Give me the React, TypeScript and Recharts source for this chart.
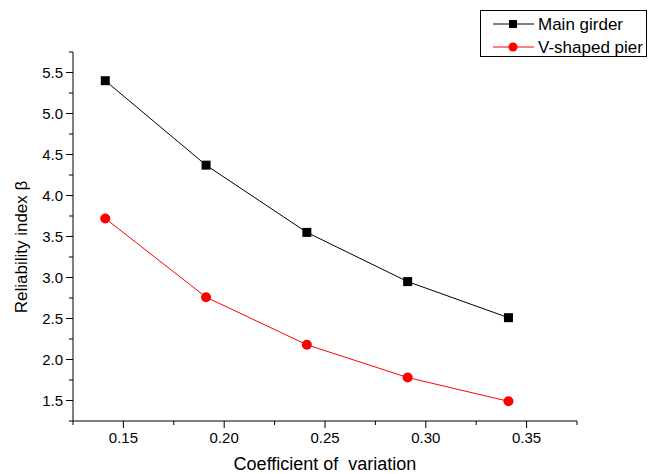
import React from 'react';
import { LineChart, Line, XAxis, YAxis } from 'recharts';

const cov = [0.141, 0.191, 0.241, 0.291, 0.341];
const mainGirder = [5.4, 4.37, 3.55, 2.95, 2.51];
const vPier = [3.72, 2.76, 2.18, 1.78, 1.49];

const xTicks = [0.125, 0.15, 0.175, 0.2, 0.225, 0.25, 0.275, 0.3, 0.325, 0.35, 0.375];
const xLabels = ['0.15', '0.20', '0.25', '0.30', '0.35'];
const yTicks = [1.25, 1.5, 1.75, 2, 2.25, 2.5, 2.75, 3, 3.25, 3.5, 3.75, 4, 4.25, 4.5, 4.75, 5, 5.25, 5.5, 5.75];
const yLabels = ['1.5', '2.0', '2.5', '3.0', '3.5', '4.0', '4.5', '5.0', '5.5'];

const data = cov.map((c, i) => ({ x: c, main: mainGirder[i], pier: vPier[i] }));

const FONT = 'Arial, "Liberation Sans", sans-serif';

const XTick = (props: any) => {
  const { x, y, payload } = props;
  const label = xLabels.find((l) => Math.abs(parseFloat(l) - payload.value) < 1e-6);
  return (
    <g>
      <line x1={x} x2={x} y1={y} y2={y + (label ? 7 : 4)} stroke="#000" />
      {label && (
        <text x={x} y={y + 22} textAnchor="middle" fontSize={15} fontFamily={FONT} fill="#000">
          {label}
        </text>
      )}
    </g>
  );
};

const YTick = (props: any) => {
  const { x, y, payload } = props;
  const label = yLabels.find((l) => Math.abs(parseFloat(l) - payload.value) < 1e-6);
  return (
    <g>
      <line x1={x} x2={x - (label ? 7 : 4)} y1={y} y2={y} stroke="#000" />
      {label && (
        <text x={x - 10} y={y + 5} textAnchor="end" fontSize={15} fontFamily={FONT} fill="#000">
          {label}
        </text>
      )}
    </g>
  );
};

const Square = (props: any) => {
  const { cx, cy } = props;
  return <rect x={cx - 4.5} y={cy - 4.5} width={9} height={9} fill="#000" />;
};

const Dot = (props: any) => {
  const { cx, cy } = props;
  return <circle cx={cx} cy={cy} r={5} fill="#ff0000" />;
};

const LegendBox = () => (
  <div
    style={{
      position: 'absolute',
      left: 480,
      top: 10,
      width: 165,
      height: 45,
      border: '1px solid #000',
      background: '#fff',
    }}
  >
    <svg width={165} height={45} style={{ position: 'absolute', left: 0, top: 0 }}>
      <line x1={12} x2={53} y1={13} y2={13} stroke="#000" />
      <rect x={28} y={9} width={8} height={8} fill="#000" />
      <text x={57} y={19} fontSize={17} fontFamily={FONT} fill="#000">Main girder</text>
      <line x1={12} x2={53} y1={36} y2={36} stroke="#ff0000" />
      <circle cx={32} cy={36} r={4.5} fill="#ff0000" />
      <text x={57} y={42} fontSize={17} fontFamily={FONT} fill="#000">V-shaped pier</text>
    </svg>
  </div>
);

export default function App() {
  return (
    <div style={{ position: 'absolute', left: 0, top: 0, width: 654, height: 474, background: '#fff' }}>
      <LineChart width={654} height={474} data={data} margin={{ top: 52, right: 77, left: 0, bottom: 0 }}>
        <XAxis
          dataKey="x"
          type="number"
          domain={[0.125, 0.375]}
          ticks={xTicks}
          tick={<XTick />}
          tickLine={false}
          tickSize={0}
          tickMargin={0}
          height={53}
          axisLine={{ stroke: '#000' }}
          interval={0}
          allowDataOverflow
        />
        <YAxis
          type="number"
          domain={[1.25, 5.75]}
          ticks={yTicks}
          tick={<YTick />}
          tickLine={false}
          tickSize={0}
          tickMargin={0}
          width={73}
          axisLine={{ stroke: '#000' }}
          interval={0}
          allowDataOverflow
        />
        <Line
          type="linear"
          dataKey="main"
          stroke="#000"
          strokeWidth={1}
          dot={<Square />}
          isAnimationActive={false}
        />
        <Line
          type="linear"
          dataKey="pier"
          stroke="#ff0000"
          strokeWidth={1}
          dot={<Dot />}
          isAnimationActive={false}
        />
        <text
          x={325}
          y={470}
          textAnchor="middle"
          fontSize={18}
          fontFamily={FONT}
          fill="#000"
          style={{ whiteSpace: 'pre' }}
        >
          {'Coefficient of\u00a0 variation'}
        </text>
        <text
          x={27}
          y={247}
          textAnchor="middle"
          fontSize={17}
          fontFamily={FONT}
          fill="#000"
          transform="rotate(-90 27 247)"
        >
          Reliability index β
        </text>
      </LineChart>
      <LegendBox />
    </div>
  );
}
